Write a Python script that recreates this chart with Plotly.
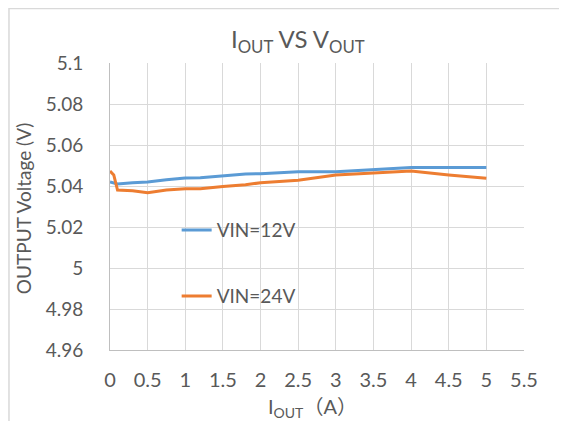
import plotly.graph_objects as go

# load current (A)
iout = [0, 0.05, 0.1, 0.3, 0.5, 0.75, 1, 1.2, 1.5, 1.8, 2, 2.5, 3, 3.5, 4, 4.5, 5]
# output voltage (V)
vout_12v = [5.042, 5.0415, 5.041, 5.0416, 5.042, 5.043, 5.0439, 5.044, 5.045, 5.0459, 5.046,
            5.047, 5.047, 5.048, 5.049, 5.049, 5.049]
vout_24v = [5.0473, 5.0454, 5.038, 5.0377, 5.0367, 5.038, 5.0387, 5.0387, 5.0397, 5.0406, 5.0416,
            5.0428, 5.0454, 5.0462, 5.0473, 5.0454, 5.0438]

x_ticks = [0, 0.5, 1, 1.5, 2, 2.5, 3, 3.5, 4, 4.5, 5, 5.5]
x_ticktext = ['0', '0.5', '1', '1.5', '2', '2.5', '3', '3.5', '4', '4.5', '5', '5.5']
y_ticks = [4.96, 4.98, 5.0, 5.02, 5.04, 5.06, 5.08, 5.1]
y_ticktext = ['4.96', '4.98', '5', '5.02', '5.04', '5.06', '5.08', '5.1']

grey = '#595959'
font_family = "Lato, 'Noto Sans CJK SC', sans-serif"

fig = go.Figure()

fig.add_trace(go.Scatter(x = iout, y = vout_12v, name = 'VIN=12V', mode = 'lines',
                         line = dict(color = '#5B9BD5', width = 3), legend = 'legend'))
fig.add_trace(go.Scatter(x = iout, y = vout_24v, name = 'VIN=24V', mode = 'lines',
                         line = dict(color = '#ED7D31', width = 3), legend = 'legend2'))

legend_style = dict(xanchor = 'left', yanchor = 'middle', bgcolor = 'rgba(0,0,0,0)',
                    font = dict(size = 19, color = grey, family = font_family))

# page body has an 8px margin, so the figure is a bit smaller than the window
fig.update_layout(
    width = 551, height = 413,
    margin = dict(l = 102, r = 35, t = 55, b = 71, autoexpand = False),
    paper_bgcolor = 'white', plot_bgcolor = 'white',
    font = dict(family = font_family, color = grey),
    showlegend = True,
    title = dict(text = 'I<sub>OUT</sub> VS V<sub>OUT</sub>', x = 0.526, xanchor = 'center',
                 y = 1 - 32 / 413, yanchor = 'middle', font = dict(size = 24, color = grey)),
    xaxis = dict(range = [0, 5.5], tickvals = x_ticks, ticktext = x_ticktext,
                 showgrid = True, gridcolor = '#d9d9d9', gridwidth = 1,
                 showline = True, linecolor = '#bfbfbf', linewidth = 1, zeroline = False,
                 tickfont = dict(size = 20, color = grey), ticks = '', ticklabelstandoff = 12,
                 automargin = False),
    yaxis = dict(range = [4.96, 5.1], tickvals = y_ticks, ticktext = y_ticktext,
                 showgrid = True, gridcolor = '#d9d9d9', gridwidth = 1,
                 showline = True, linecolor = '#bfbfbf', linewidth = 1, zeroline = False,
                 tickfont = dict(size = 19, color = grey), ticks = '', ticklabelstandoff = 22,
                 automargin = False),
    legend = dict(x = 0.161, y = 0.418, **legend_style),
    legend2 = dict(x = 0.161, y = 0.188, **legend_style),
    annotations = [
        dict(text = 'I<sub>OUT</sub>（A）', xref = 'paper', yref = 'paper', x = 0.488, y = -0.2,
             xanchor = 'center', yanchor = 'middle', showarrow = False,
             font = dict(size = 20, color = grey)),
        dict(text = 'OUTPUT Voltage (V)', xref = 'paper', yref = 'paper', x = -0.21, y = 0.491,
             xanchor = 'center', yanchor = 'middle', showarrow = False, textangle = -90,
             font = dict(size = 19, color = grey)),
    ],
    # chart-area frame: only top and left edges are inside the picture
    shapes = [dict(type = 'path', xref = 'paper', yref = 'paper',
                   path = 'M -0.244,-0.4 L -0.244,1.19 L 1.3,1.19',
                   line = dict(color = '#d9d9d9', width = 1.5), layer = 'below')],
)

fig.write_html("out.html")
